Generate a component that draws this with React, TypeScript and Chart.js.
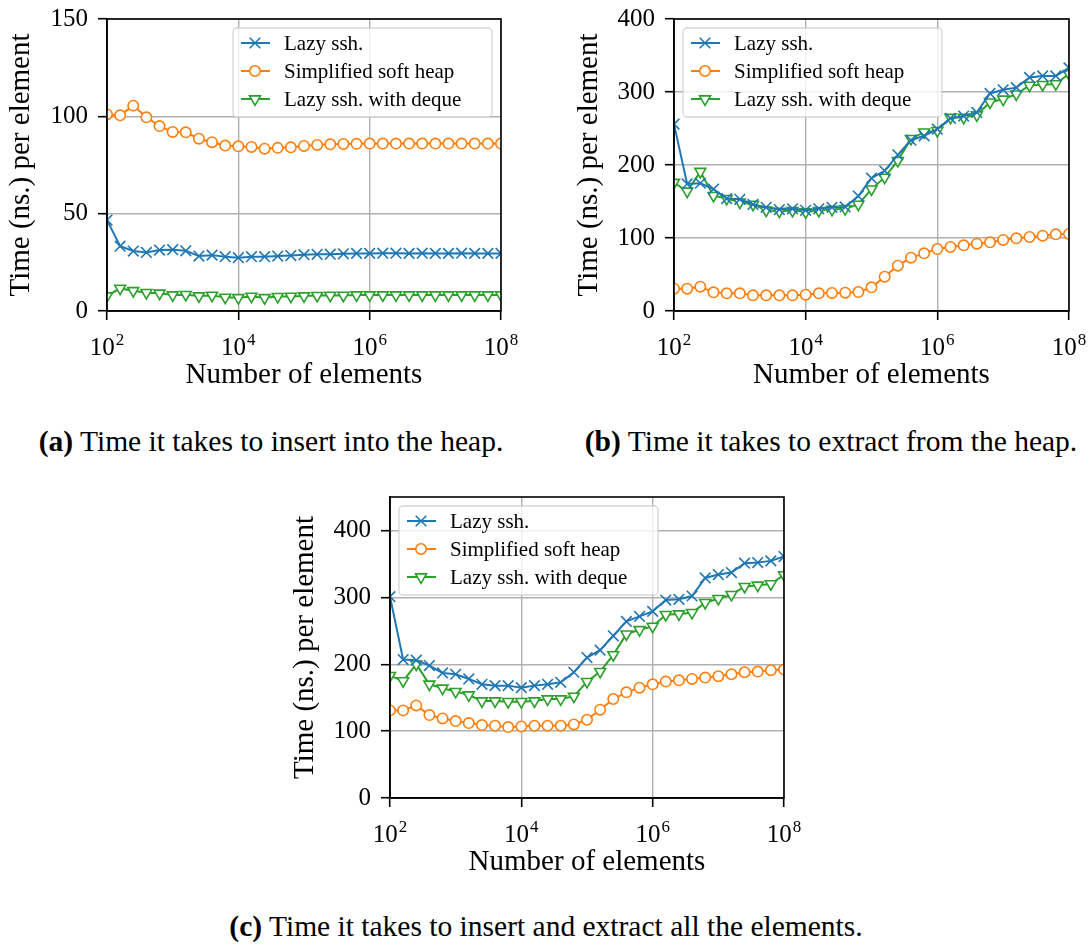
import React, { useEffect, useRef } from 'react';
import { Chart, registerables } from 'chart.js';
import { drawPoint } from 'chart.js/helpers';

Chart.register(...registerables);
Chart.defaults.color = '#000';

const FONT = '"Liberation Serif", "Times New Roman", serif';

// Number of elements (x values)
const sizes = [
  100, 158.49, 251.19, 398.11, 630.96, 1000, 1584.9, 2511.9, 3981.1, 6309.6,
  10000, 15849, 25119, 39811, 63096, 100000, 158489, 251189, 398107, 630957,
  1000000, 1584893, 2511886, 3981072, 6309573, 10000000, 15848932, 25118864, 39810717, 63095734,
  100000000,
];

const xTickValues = [1e2, 1e4, 1e6, 1e8];
const xTickBase = '10';
const xTickExponents = ['2', '4', '6', '8'];

const seriesLabels = ['Lazy ssh.', 'Simplified soft heap', 'Lazy ssh. with deque'];
const seriesColors = ['#1f77b4', '#ff7f0e', '#2ca02c'];

const xTitle = 'Number of elements';
const yTitle = 'Time (ns.) per element';

// (a) insert
const insertLazy = [46.7, 33.3, 30.8, 30.1, 31.3, 31.5, 30.9, 28.2, 28.7, 27.9, 27.4, 27.9, 27.9, 28.2, 28.5, 28.9, 29.1, 29.2, 29.4, 29.6, 29.6, 29.7, 29.7, 29.6, 29.7, 29.6, 29.6, 29.7, 29.6, 29.6, 29.6];
const insertSimplified = [101, 100.5, 105.5, 99.5, 95, 92, 91.8, 88.5, 86.7, 85, 84.6, 84.3, 83.4, 83.8, 84.1, 84.8, 85.3, 85.6, 85.8, 85.9, 86, 86, 86, 86, 86, 86, 86, 86, 86, 86, 86];
const insertDeque = [7.7, 11.6, 10.4, 9.4, 9.1, 8.2, 8.4, 7.7, 8.0, 7.0, 6.8, 7.5, 6.8, 7.4, 7.5, 7.7, 7.9, 8.0, 8.0, 8.2, 8.2, 8.2, 8.2, 8.2, 8.2, 8.2, 8.2, 8.2, 8.2, 8.2, 8.2];
const insertYTicks = [0, 50, 100, 150];

// (b) extract
const extractLazy = [256, 174, 175, 167, 154, 153, 146, 142, 139, 140, 138, 140, 142, 142.5, 157.5, 182, 192, 214, 234, 240, 249, 264, 267, 272, 298, 303, 306, 320, 322, 322, 333];
const extractSimplified = [30.6, 30.6, 33.3, 25.6, 24.2, 24.2, 21.5, 21.5, 21.5, 21.5, 22.4, 24.2, 24.7, 25.1, 26.0, 32.4, 47.0, 62.1, 73.1, 79.0, 84.9, 87.7, 90.0, 92.2, 94.1, 97.3, 99.5, 101.4, 103.2, 105.0, 105.5];
const extractDeque = [176, 164, 191, 158, 154, 149, 146, 138, 136.5, 137.5, 135.6, 137.5, 139, 140, 146, 167, 183, 206, 236, 245, 247, 265, 265, 268.5, 286, 290, 297, 309, 310, 311, 325];
const extractYTicks = [0, 100, 200, 300, 400];

// (c) insert + extract
const allLazy = [301, 207, 206, 198, 187, 185, 178, 170, 168, 168, 165, 168, 170, 173, 188, 210, 221, 242.5, 264, 271.5, 279, 296, 297, 302, 329, 334, 337, 351, 352, 354.5, 361];
const allSimplified = [131, 131, 138.4, 124, 119, 115, 112, 109, 108, 106, 107, 108, 108, 108, 110, 117, 132, 148, 158, 165, 170, 174, 176, 178, 180, 182, 185, 188, 189, 191, 192];
const allDeque = [183, 175, 200, 170, 164, 159, 154, 145, 145, 144, 144, 145, 148, 148, 152, 174, 189, 214, 245, 251.5, 256.5, 274, 275, 277, 292, 298, 304, 316, 318, 320, 333.6];
const allYTicks = [0, 100, 200, 300, 400];

const GRID = '#b0b0b0';

const decorPlugin = {
  id: 'decor',
  afterDatasetsDraw(chart: any, _args: any, opts: any) {
    const { ctx, chartArea: a } = chart;
    ctx.save();
    ctx.strokeStyle = '#000';
    ctx.lineWidth = 1.6;
    ctx.strokeRect(a.left, a.top, a.right - a.left, a.bottom - a.top);
    ctx.restore();

    // legend
    const w = 259;
    const h = 89;
    const x0 = opts.align === 'right' ? a.right - 9 - w : a.left + 9;
    const y0 = a.top + 9;
    ctx.save();
    const r = 4;
    ctx.beginPath();
    ctx.moveTo(x0 + r, y0);
    ctx.lineTo(x0 + w - r, y0);
    ctx.arcTo(x0 + w, y0, x0 + w, y0 + r, r);
    ctx.lineTo(x0 + w, y0 + h - r);
    ctx.arcTo(x0 + w, y0 + h, x0 + w - r, y0 + h, r);
    ctx.lineTo(x0 + r, y0 + h);
    ctx.arcTo(x0, y0 + h, x0, y0 + h - r, r);
    ctx.lineTo(x0, y0 + r);
    ctx.arcTo(x0, y0, x0 + r, y0, r);
    ctx.closePath();
    ctx.fillStyle = 'rgba(255,255,255,0.8)';
    ctx.fill();
    ctx.strokeStyle = 'rgba(204,204,204,0.8)';
    ctx.lineWidth = 1.3;
    ctx.stroke();
    chart.data.datasets.forEach((ds: any, i: number) => {
      const cy = y0 + 15 + i * 28;
      ctx.strokeStyle = ds.borderColor;
      ctx.lineWidth = ds.borderWidth;
      ctx.beginPath();
      ctx.moveTo(x0 + 8, cy);
      ctx.lineTo(x0 + 37, cy);
      ctx.stroke();
      ctx.fillStyle = ds.pointBackgroundColor;
      ctx.strokeStyle = ds.pointBorderColor;
      ctx.lineWidth = ds.pointBorderWidth;
      drawPoint(ctx, {
        pointStyle: ds.pointStyle,
        rotation: ds.pointRotation || 0,
        radius: ds.pointRadius,
        borderWidth: ds.pointBorderWidth,
      } as any, x0 + 22, cy);
      ctx.fillStyle = '#000';
      ctx.font = `21px ${FONT}`;
      ctx.textAlign = 'left';
      ctx.textBaseline = 'middle';
      ctx.fillText(ds.label, x0 + 51, cy + 1);
    });
    ctx.restore();
  },
  afterDraw(chart: any) {
    const scale = chart.scales.x;
    const ctx = chart.ctx;
    ctx.save();
    ctx.fillStyle = '#000';
    ctx.textBaseline = 'alphabetic';
    ctx.textAlign = 'left';
    const y = chart.chartArea.bottom + 44;
    xTickValues.forEach((v, i) => {
      const px = scale.getPixelForValue(v);
      ctx.font = `25px ${FONT}`;
      const bw = ctx.measureText(xTickBase).width;
      ctx.font = `17px ${FONT}`;
      const ew = ctx.measureText(xTickExponents[i]).width;
      const start = px - (bw + ew + 1) / 2;
      ctx.font = `25px ${FONT}`;
      ctx.fillText(xTickBase, start, y);
      ctx.font = `17px ${FONT}`;
      ctx.fillText(xTickExponents[i], start + bw + 1, y - 10);
    });
    ctx.restore();
  },
};

type Spec = {
  left: number; top: number; width: number; height: number;
  yWidth: number; pad: { left: number; top: number; right: number; bottom: number };
  yMax: number; yTicks: number[]; titlePad: number; legendAlign: 'left' | 'right';
  series: number[][];
};

const X_HEIGHT = 78.5;

function makeDatasets(series: number[][]) {
  const styles = [
    { pointStyle: 'crossRot', pointRadius: 7.5, pointRotation: 0 },
    { pointStyle: 'circle', pointRadius: 5.2, pointRotation: 0 },
    { pointStyle: 'triangle', pointRadius: 6.3, pointRotation: 180 },
  ];
  return series.map((arr, i) => ({
    label: seriesLabels[i],
    data: sizes.map((x, j) => ({ x, y: arr[j] })),
    borderColor: seriesColors[i],
    backgroundColor: seriesColors[i],
    borderWidth: 2,
    pointBackgroundColor: 'rgba(255,255,255,1)',
    pointBorderColor: seriesColors[i],
    pointBorderWidth: 1.6,
    pointHoverRadius: styles[i].pointRadius,
    tension: 0,
    clip: 0,
    ...styles[i],
  }));
}

function ChartBox({ spec }: { spec: Spec }) {
  const ref = useRef<HTMLCanvasElement | null>(null);
  useEffect(() => {
    if (!ref.current) return;
    const grid = { color: GRID, lineWidth: 1.4, drawTicks: true, tickLength: 9, tickColor: '#000', tickWidth: 1.6 };
    const border = { display: true, color: '#000', width: 1.6 };
    const chart = new Chart(ref.current, {
      type: 'line',
      data: { datasets: makeDatasets(spec.series) as any },
      plugins: [decorPlugin as any],
      options: {
        responsive: false,
        animation: false,
        devicePixelRatio: 1,
        events: [],
        layout: { padding: spec.pad },
        plugins: {
          legend: { display: false },
          tooltip: { enabled: false },
          decor: { align: spec.legendAlign },
        } as any,
        scales: {
          x: {
            type: 'logarithmic',
            min: 1e2,
            max: 1e8,
            afterBuildTicks: (s: any) => { s.ticks = xTickValues.map((v) => ({ value: v })); },
            afterFit: (s: any) => { s.height = X_HEIGHT; s.paddingLeft = 0; s.paddingRight = 0; },
            ticks: { callback: () => '', autoSkip: false, maxRotation: 0 },
            grid,
            border,
            title: { display: true, text: xTitle, color: '#000', font: { family: FONT, size: 29, lineHeight: 1 }, padding: 0 },
          },
          y: {
            type: 'linear',
            min: 0,
            max: spec.yMax,
            afterBuildTicks: (s: any) => { s.ticks = spec.yTicks.map((v) => ({ value: v })); },
            afterFit: (s: any) => { s.width = spec.yWidth; s.paddingTop = 0; s.paddingBottom = 0; },
            ticks: { color: '#000', font: { family: FONT, size: 25 }, padding: 10 },
            grid,
            border,
            title: { display: true, text: yTitle, color: '#000', font: { family: FONT, size: 29, lineHeight: 1 }, padding: { top: spec.titlePad, bottom: 0 } },
          },
        },
      } as any,
    });
    return () => chart.destroy();
  }, [spec]);
  return (
    <div style={{ position: 'absolute', left: spec.left, top: spec.top, width: spec.width, height: spec.height }}>
      <canvas ref={ref} width={spec.width} height={spec.height} style={{ width: spec.width, height: spec.height, display: 'block' }} />
    </div>
  );
}

const specA: Spec = {
  left: 0, top: 0, width: 540, height: 400, yWidth: 107,
  pad: { left: 0, top: 19, right: 39, bottom: 400 - 311 - X_HEIGHT },
  yMax: 150, yTicks: insertYTicks, titlePad: 6.5, legendAlign: 'right',
  series: [insertLazy, insertSimplified, insertDeque],
};
const specB: Spec = {
  left: 560, top: 0, width: 532, height: 400, yWidth: 114,
  pad: { left: 0, top: 19, right: 23, bottom: 400 - 311 - X_HEIGHT },
  yMax: 400, yTicks: extractYTicks, titlePad: 14.5, legendAlign: 'left',
  series: [extractLazy, extractSimplified, extractDeque],
};
const specC: Spec = {
  left: 270, top: 470, width: 560, height: 420, yWidth: 120,
  pad: { left: 0, top: 27, right: 46, bottom: 420 - 328 - X_HEIGHT },
  yMax: 450, yTicks: allYTicks, titlePad: 20.5, legendAlign: 'left',
  series: [allLazy, allSimplified, allDeque],
};

const captionStyle: React.CSSProperties = {
  position: 'absolute',
  fontFamily: FONT,
  fontSize: 29.5,
  lineHeight: '30px',
  whiteSpace: 'nowrap',
  transform: 'translateX(-50%)',
  color: '#000',
};

const captionA = ['(a)', 'Time it takes to insert into the heap.'];
const captionB = ['(b)', 'Time it takes to extract from the heap.'];
const captionC = ['(c)', 'Time it takes to insert and extract all the elements.'];

function Caption({ parts, x, y }: { parts: string[]; x: number; y: number }) {
  return (
    <div style={{ ...captionStyle, left: x, top: y }}>
      <b>{parts[0]}</b> {parts[1]}
    </div>
  );
}

export default function App() {
  return (
    <div style={{ position: 'absolute', left: 0, top: 0, width: 1092, height: 950, background: '#fff', overflow: 'hidden' }}>
      <ChartBox spec={specA} />
      <ChartBox spec={specB} />
      <ChartBox spec={specC} />
      <Caption parts={captionA} x={271} y={426} />
      <Caption parts={captionB} x={831} y={426} />
      <Caption parts={captionC} x={546} y={911} />
    </div>
  );
}
